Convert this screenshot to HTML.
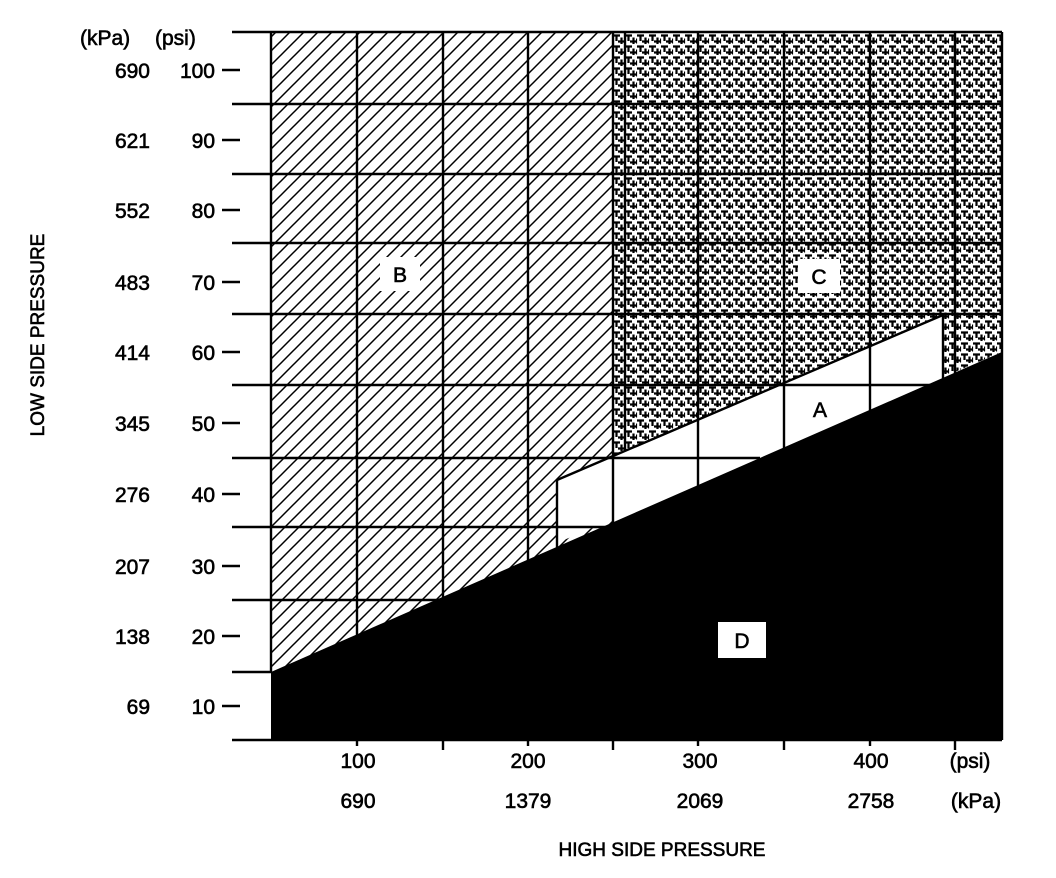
<!DOCTYPE html>
<html><head><style>
html,body{margin:0;padding:0;background:#fff}
svg{display:block}
text{font-family:"Liberation Sans",Arial,sans-serif;font-size:21px;fill:#000;stroke:#000;stroke-width:0.6}
</style></head><body>
<svg width="1056" height="878" viewBox="0 0 1056 878" xmlns="http://www.w3.org/2000/svg">
<defs>
<pattern id="hatch" width="14" height="14" patternUnits="userSpaceOnUse">
<path d="M-2,16 L16,-2 M-9,9 L9,-9 M5,23 L23,5" stroke="#000" stroke-width="1.5"/>
</pattern>
<pattern id="cross" width="12" height="11" patternUnits="userSpaceOnUse">
<rect width="12" height="11" fill="#fff"/>
<path d="M1,2.5 H8 M4.5,2.5 V8 M6,8.5 H12 M9.5,4.5 V11 M0,5.5 V10.5" stroke="#000" stroke-width="2.2"/>
</pattern>
</defs>
<rect x="271" y="32" width="342" height="640" fill="url(#hatch)"/>
<polygon points="613,32 1002,32 1002,352 943,377 943,315 613,456" fill="url(#cross)"/>
<polygon points="557,480 943,315 943,377 557,543" fill="#fff"/>
<g stroke="#000" stroke-width="2.4">
<line x1="232" y1="32" x2="1002" y2="32"/>
<line x1="232" y1="104" x2="1002" y2="104"/>
<line x1="232" y1="174" x2="1002" y2="174"/>
<line x1="232" y1="243" x2="1002" y2="243"/>
<line x1="232" y1="314" x2="1002" y2="314"/>
<line x1="232" y1="385" x2="1002" y2="385"/>
<line x1="232" y1="458" x2="760" y2="458"/>
<line x1="232" y1="527" x2="620" y2="527"/>
<line x1="232" y1="600" x2="450" y2="600"/>
<line x1="232" y1="672" x2="271" y2="672"/>
<line x1="232" y1="740" x2="1002" y2="740"/>
<line x1="271" y1="32" x2="271" y2="672"/>
<line x1="357" y1="32" x2="357" y2="746"/>
<line x1="443" y1="32" x2="443" y2="750"/>
<line x1="528" y1="32" x2="528" y2="746"/>
<line x1="613" y1="32" x2="613" y2="750"/>
<line x1="625" y1="32" x2="625" y2="450"/>
<line x1="698" y1="32" x2="698" y2="746"/>
<line x1="784" y1="32" x2="784" y2="750"/>
<line x1="870" y1="32" x2="870" y2="746"/>
<line x1="955" y1="32" x2="955" y2="750"/>
<line x1="1002" y1="32" x2="1002" y2="740"/>
<line x1="557" y1="480" x2="557" y2="548"/>
<line x1="943" y1="315" x2="943" y2="380"/>
<line x1="557" y1="480" x2="943" y2="315"/>
</g>
<polygon points="271,672 1002,352 1002,740 271,740" fill="#000"/>
<g stroke="#000" stroke-width="2.4">
<line x1="222" y1="70" x2="240" y2="70"/>
<line x1="222" y1="140" x2="240" y2="140"/>
<line x1="222" y1="210" x2="240" y2="210"/>
<line x1="222" y1="282" x2="240" y2="282"/>
<line x1="222" y1="352" x2="240" y2="352"/>
<line x1="222" y1="423" x2="240" y2="423"/>
<line x1="222" y1="494" x2="240" y2="494"/>
<line x1="222" y1="566" x2="240" y2="566"/>
<line x1="222" y1="636" x2="240" y2="636"/>
<line x1="222" y1="706" x2="240" y2="706"/>
</g>
<rect x="380" y="257" width="40" height="34" fill="#fff"/>
<text x="400" y="282" text-anchor="middle">B</text>
<rect x="798" y="259" width="42" height="34" fill="#fff"/>
<text x="819" y="284" text-anchor="middle">C</text>
<text x="820" y="417" text-anchor="middle">A</text>
<rect x="718" y="622" width="48" height="36" fill="#fff"/>
<text x="742" y="648" text-anchor="middle">D</text>
<text x="80" y="45">(kPa)</text><text x="155" y="45">(psi)</text>
<g text-anchor="end">
<text x="150" y="78">690</text><text x="215" y="78">100</text>
<text x="150" y="148">621</text><text x="215" y="148">90</text>
<text x="150" y="218">552</text><text x="215" y="218">80</text>
<text x="150" y="290">483</text><text x="215" y="290">70</text>
<text x="150" y="360">414</text><text x="215" y="360">60</text>
<text x="150" y="431">345</text><text x="215" y="431">50</text>
<text x="150" y="502">276</text><text x="215" y="502">40</text>
<text x="150" y="574">207</text><text x="215" y="574">30</text>
<text x="150" y="644">138</text><text x="215" y="644">20</text>
<text x="150" y="714">69</text><text x="215" y="714">10</text>
</g>
<text transform="translate(44,335) rotate(-90)" text-anchor="middle" style="font-size:19px">LOW SIDE PRESSURE</text>
<g text-anchor="middle">
<text x="358" y="768">100</text><text x="358" y="808">690</text>
<text x="528" y="768">200</text><text x="528" y="808">1379</text>
<text x="700" y="768">300</text><text x="700" y="808">2069</text>
<text x="871" y="768">400</text><text x="871" y="808">2758</text>
<text x="970" y="768">(psi)</text><text x="976" y="808">(kPa)</text>
</g>
<text x="662" y="856" text-anchor="middle" style="font-size:19px">HIGH SIDE PRESSURE</text>
</svg>
</body></html>
